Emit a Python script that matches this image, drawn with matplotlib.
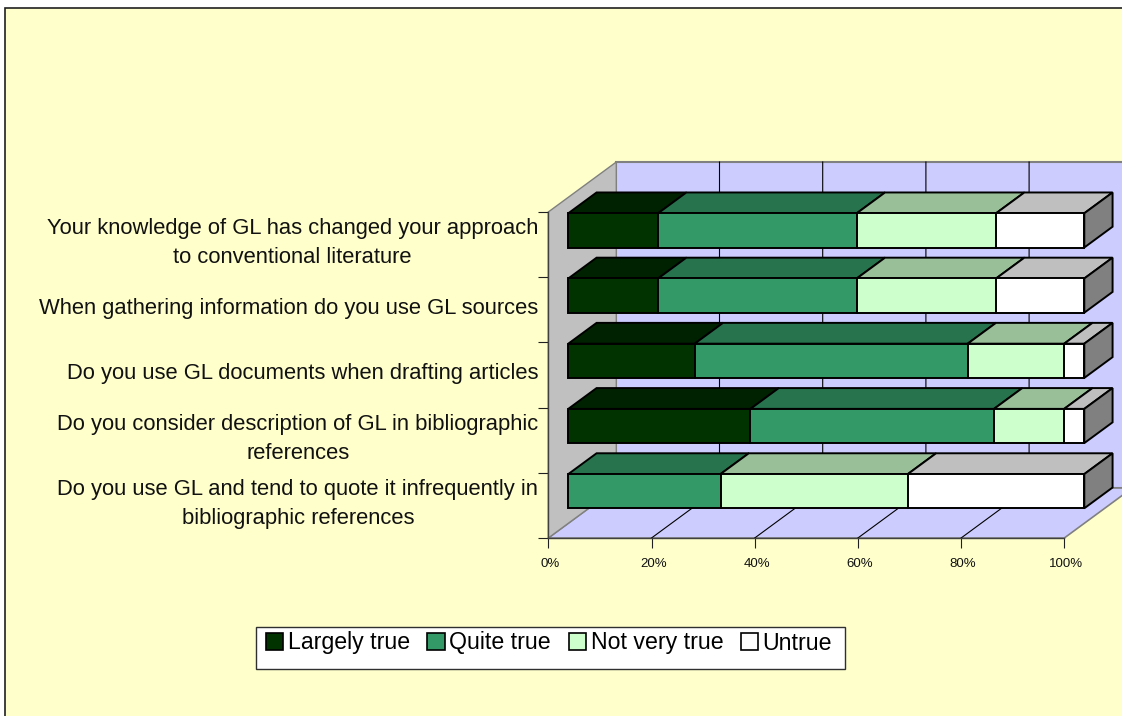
import matplotlib
matplotlib.use("Agg")
import matplotlib.pyplot as plt
from matplotlib.patches import Patch, Polygon, Rectangle
from matplotlib.transforms import ScaledTranslation

plt.rcParams["font.family"] = ["Liberation Sans", "DejaVu Sans"]

# bottom to top, same order as the chart's category axis
categories = [
    "Do you use GL and tend to quote it infrequently in\nbibliographic references",
    "Do you consider description of GL in bibliographic\nreferences",
    "Do you use GL documents when drafting articles",
    "When gathering information do you use GL sources",
    "Your knowledge of GL has changed your approach\nto conventional literature",
]
series_names = ["Largely true", "Quite true", "Not very true", "Untrue"]
largely_true = [0, 35.3, 24.5, 17.4, 17.4]
quite_true = [29.5, 47.2, 52.9, 38.5, 38.5]
not_very_true = [36.3, 13.6, 18.7, 27.0, 27.0]
untrue = [34.2, 3.9, 3.9, 17.1, 17.1]
x_ticks = [0, 20, 40, 60, 80, 100]

face_colors = ["#003300", "#339966", "#CCFFCC", "#FFFFFF"]
top_colors = ["#002200", "#26734D", "#99BF99", "#BFBFBF"]
side_color = "#808080"
wall_color = "#C0C0C0"
plane_color = "#CCCCFF"
bg_color = "#FFFFCC"

W, H = 1122, 716
fig = plt.figure(figsize=(W / 100, H / 100), dpi=100, facecolor="white")

# chart area with its border, runs off the right and bottom of the image
fig.add_artist(Rectangle((5 / W, -0.02), 1.02, 1.02 - 8 / H, transform=fig.transFigure,
                         facecolor=bg_color, edgecolor="#202020", linewidth=1.2, zorder=-1))

# axes = front plane of the 3D box
left, right, bottom, top = 548.3, 1064.3, 538, 212
ax = fig.add_axes([left / W, 1 - bottom / H, (right - left) / W, (bottom - top) / H])
ax.set_xlim(0, 100)
ax.set_ylim(0, 5)
ax.patch.set_visible(False)

# depth of the box in data units
DX = 68 / (right - left) * 100
DY = 50 / (bottom - top) * 5
BAR_D0, BAR_D1 = 0.294, 0.71
BAR_LOW, BAR_HIGH = 0.23, 0.755
EDGE = 1.4


def proj(pct, cat, depth=0.0):
    return (pct + depth * DX, cat + depth * DY)


def poly(points, **kw):
    kw.setdefault("clip_on", False)
    ax.add_patch(Polygon(points, closed=True, **kw))


# walls and floor
poly([proj(0, 0, 1), proj(100, 0, 1), proj(100, 5, 1), proj(0, 5, 1)],
     facecolor=plane_color, edgecolor="#808080", linewidth=1.5, zorder=1)
poly([proj(0, 0, 0), proj(100, 0, 0), proj(100, 0, 1), proj(0, 0, 1)],
     facecolor=plane_color, edgecolor="#808080", linewidth=1.2, zorder=1)
poly([proj(0, 0, 0), proj(0, 0, 1), proj(0, 5, 1), proj(0, 5, 0)],
     facecolor=wall_color, edgecolor="#808080", linewidth=1.0, zorder=1.1)

# gridlines on floor and back wall
for t in x_ticks[1:-1]:
    xs, ys = zip(proj(t, 0, 0), proj(t, 0, 1), proj(t, 5, 1))
    ax.plot(xs, ys, color="black", linewidth=0.8, zorder=1.5, clip_on=False)

# stacked bars, back ones first so the front ones sit on top
series = [largely_true, quite_true, not_very_true, untrue]
for i in range(len(categories) - 1, -1, -1):
    start = 0
    lo, hi = i + BAR_LOW, i + BAR_HIGH
    for s, values in enumerate(series):
        end = start + values[i]
        if values[i] > 0:
            poly([proj(start, hi, BAR_D0), proj(end, hi, BAR_D0),
                  proj(end, hi, BAR_D1), proj(start, hi, BAR_D1)],
                 facecolor=top_colors[s], edgecolor="black", linewidth=EDGE,
                 joinstyle="miter", zorder=3 + s * 0.01)
            poly([proj(start, lo, BAR_D0), proj(end, lo, BAR_D0),
                  proj(end, hi, BAR_D0), proj(start, hi, BAR_D0)],
                 facecolor=face_colors[s], edgecolor="black", linewidth=EDGE,
                 joinstyle="miter", zorder=3.2 + s * 0.01)
        start = end
    poly([proj(100, lo, BAR_D0), proj(100, lo, BAR_D1),
          proj(100, hi, BAR_D1), proj(100, hi, BAR_D0)],
         facecolor=side_color, edgecolor="black", linewidth=EDGE,
         joinstyle="miter", zorder=3.3)

# axes
for name in ["top", "right"]:
    ax.spines[name].set_visible(False)
for name in ["left", "bottom"]:
    ax.spines[name].set_color("#404040")
    ax.spines[name].set_linewidth(1.0)
    ax.spines[name].set_zorder(2)

ax.set_xticks(x_ticks)
ax.set_xticklabels([f"{t}%" for t in x_ticks])
ax.set_yticks(range(6))
ax.set_yticklabels([])
ax.tick_params(axis="both", length=7.2, width=0.8, color="#202020")
ax.tick_params(axis="x", labelsize=9.5, pad=7, labelcolor="#111111")
shift = ScaledTranslation(2 / 100, 0, fig.dpi_scale_trans)
for lbl in ax.get_xticklabels():
    lbl.set_transform(lbl.get_transform() + shift)

# category labels, right aligned block with centred lines
for i, label in enumerate(categories):
    ax.text(-1.94, i + 0.52, label, ha="right", va="center", multialignment="center",
            fontsize=15.8, color="#111111", linespacing=1.5, clip_on=False)

# legend text sits above the middle of its box, so the box is drawn apart
fig.add_artist(Rectangle((256 / W, 1 - 669 / H), 589 / W, 42 / H, transform=fig.transFigure,
                         facecolor="white", edgecolor="#303030", linewidth=1.0, zorder=1))
handles = [Patch(facecolor=c, edgecolor="black", linewidth=1.2) for c in face_colors]
leg = fig.legend(handles, series_names, loc="center",
                 bbox_to_anchor=(549 / W, 1 - 643 / H), ncol=4, fontsize=16.7,
                 frameon=False, handlelength=0.75, handleheight=0.75, handletextpad=0.2,
                 columnspacing=0.75, borderpad=0, borderaxespad=0)

fig.savefig("out.png", dpi=100, facecolor=fig.get_facecolor())
